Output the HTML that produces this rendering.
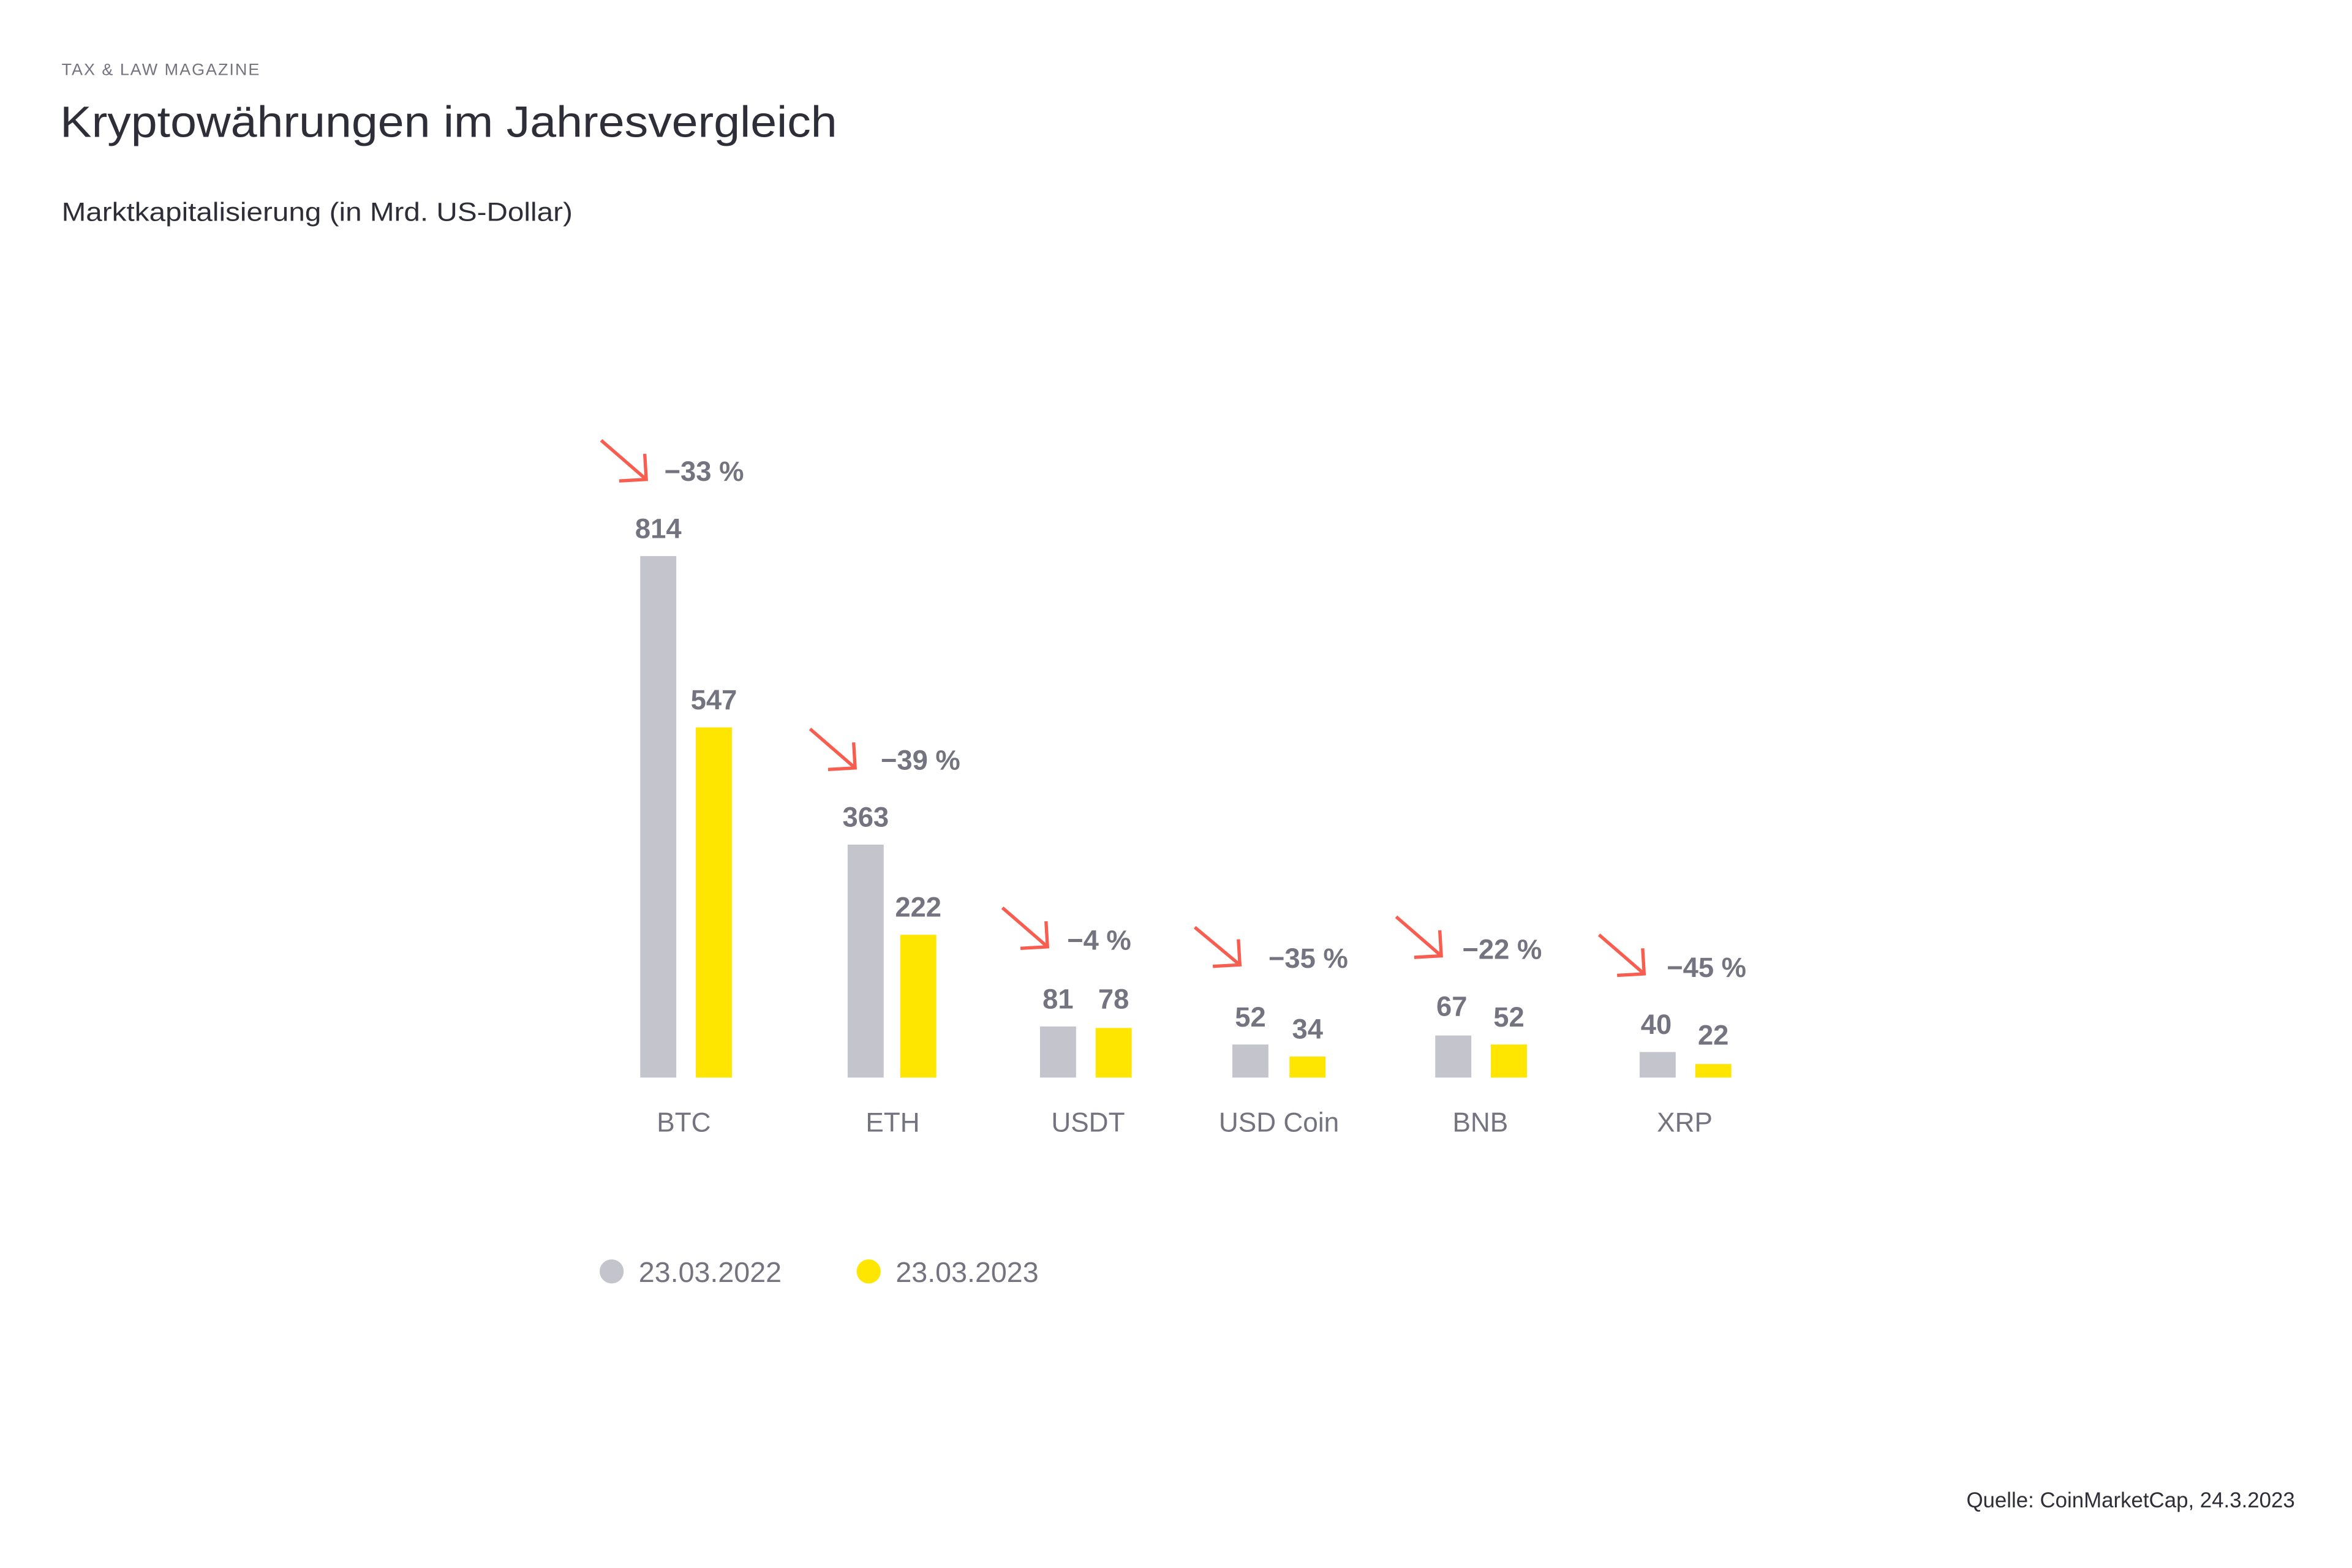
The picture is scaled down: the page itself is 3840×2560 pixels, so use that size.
<!DOCTYPE html>
<html><head><meta charset="utf-8"><style>
html,body{margin:0;padding:0;background:#fff;}
svg{display:block}
text{font-family:"Liberation Sans",sans-serif;}
</style></head><body>
<svg width="3840" height="2560" viewBox="0 0 1565 1043.33" xmlns="http://www.w3.org/2000/svg">
<rect width="1565" height="1044" fill="#fff"/>
<text x="41" y="50" font-size="11" fill="#747480" letter-spacing="0.8">TAX &amp; LAW MAGAZINE</text>
<text x="40" y="91" font-size="29" fill="#2e2e38" textLength="517" lengthAdjust="spacingAndGlyphs">Kryptowährungen im Jahresvergleich</text>
<text x="41" y="147" font-size="17.5" fill="#2e2e38" textLength="340" lengthAdjust="spacingAndGlyphs">Marktkapitalisierung (in Mrd. US-Dollar)</text>
<g fill="#c4c4cd">
<rect x="426" y="370" width="24" height="347"/>
<rect x="564" y="562" width="24" height="155"/>
<rect x="692" y="683" width="24" height="34"/>
<rect x="820" y="695" width="24" height="22"/>
<rect x="955" y="689" width="24" height="28"/>
<rect x="1091" y="700" width="24" height="17"/>
</g>
<g fill="#ffe600">
<rect x="463" y="484" width="24" height="233"/>
<rect x="599" y="622" width="24" height="95"/>
<rect x="729" y="684" width="24" height="33"/>
<rect x="858" y="703" width="24" height="14"/>
<rect x="992" y="695" width="24" height="22"/>
<rect x="1128" y="708" width="24" height="9"/>
</g>
<g font-size="18.5" font-weight="bold" fill="#747480" text-anchor="middle">
<text x="438" y="358">814</text><text x="475" y="472">547</text>
<text x="576" y="550">363</text><text x="611" y="610">222</text>
<text x="704" y="671">81</text><text x="741" y="671">78</text>
<text x="832" y="683">52</text><text x="870" y="691">34</text>
<text x="966" y="676">67</text><text x="1004" y="683">52</text>
<text x="1102" y="688">40</text><text x="1140" y="695">22</text>
</g>
<g font-size="18.5" font-weight="bold" fill="#747480">
<text x="442" y="320">−33 %</text>
<text x="586" y="512">−39 %</text>
<text x="710" y="632">−4 %</text>
<text x="844" y="644">−35 %</text>
<text x="973" y="638">−22 %</text>
<text x="1109" y="650">−45 %</text>
</g>
<g stroke="#f95d4f" stroke-width="2.2" fill="none">
<path d="M400 293 L430 319 M429 302 L430 319 L412 320"/>
<path d="M539 485 L569 511 M568 494 L569 511 L551 512"/>
<path d="M667 604 L697 630 M696 613 L697 630 L679 631"/>
<path d="M795 617 L825 642 M824 625 L825 642 L807 643"/>
<path d="M929 610 L959 636 M958 619 L959 636 L941 637"/>
<path d="M1064 622 L1094 648 M1093 631 L1094 648 L1076 649"/>
</g>
<g font-size="18" fill="#747480" text-anchor="middle">
<text x="455" y="753">BTC</text>
<text x="594" y="753">ETH</text>
<text x="724" y="753">USDT</text>
<text x="851" y="753">USD Coin</text>
<text x="985" y="753">BNB</text>
<text x="1121" y="753">XRP</text>
</g>
<circle cx="407" cy="846" r="8" fill="#c4c4cd"/>
<text x="425" y="853" font-size="19" fill="#747480">23.03.2022</text>
<circle cx="578" cy="846" r="8" fill="#ffe600"/>
<text x="596" y="853" font-size="19" fill="#747480">23.03.2023</text>
<text x="1527" y="1003" font-size="14.2" fill="#2e2e38" text-anchor="end">Quelle: CoinMarketCap, 24.3.2023</text>
</svg>
</body></html>
